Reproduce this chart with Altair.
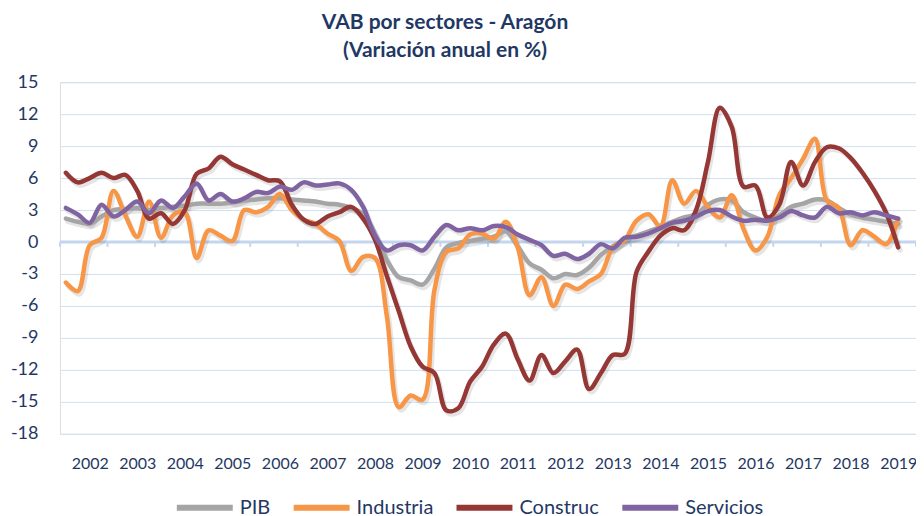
import altair as alt
import pandas as pd

# ---------------- data (quarterly, 2002T1 .. 2019T3) ----------------
years = list(range(2002, 2020))
quarters = [f"{y}T{q}" for y in years for q in range(1, 5)][:71]
series = ["PIB", "Industria", "Construc", "Servicios"]
colors = ["#a5a5a5", "#f79646", "#953735", "#8064a2"]

pib = [2.2, 1.9, 1.7, 2.4, 3.0, 3.1, 3.2, 3.0, 3.2, 3.3,
       3.4, 3.6, 3.6, 3.6, 3.7, 3.9, 4.0, 4.1, 4.1, 4.0,
       3.9, 3.8, 3.6, 3.5, 3.2, 2.6, 0.8, -1.7, -3.3, -3.6,
       -4.0, -2.5, -0.5, -0.1, 0.1, 0.3, 0.5, 1.0, -0.4, -2.0,
       -2.6, -3.4, -3.0, -3.1, -2.4, -1.2, -0.4, 0.2, 0.6, 1.0,
       1.4, 1.9, 2.3, 2.6, 3.5, 4.0, 3.9, 2.8, 2.3, 2.0,
       2.5, 3.3, 3.6, 4.0, 3.9, 3.2, 2.6, 2.3, 2.1, 1.9,
       1.7]
industria = [-3.8, -4.6, -0.3, 0.4, 4.8, 2.5, 0.5, 3.8, 0.4, 2.5,
             2.8, -1.5, 1.1, 0.6, 0.1, 3.0, 2.8, 3.3, 4.5, 3.0,
             2.1, 1.7, 0.8, 0.1, -2.7, -1.4, -1.5, -7.0, -15.5, -14.4,
             -14.8, -4.5, -0.9, -0.6, 0.7, 0.8, 0.3, 1.9, -0.5, -5.0,
             -3.3, -6.0, -4.0, -4.4, -3.7, -3.0, -0.5, 0.2, 2.0, 2.6,
             1.5, 5.8, 3.6, 4.8, 3.3, 2.3, 4.4, 1.2, -0.8, 0.5,
             4.4, 6.0, 7.8, 9.7, 3.9, 3.2, -0.3, 1.1, 0.5, -0.2,
             2.2]
construc = [6.5, 5.6, 6.0, 6.5, 6.0, 6.3, 4.8, 2.2, 2.7, 1.7,
            3.0, 6.4, 6.9, 8.0, 7.3, 6.8, 6.3, 5.8, 5.7, 3.5,
            2.1, 1.7, 2.4, 2.8, 3.3, 2.2, 0.2, -3.2, -6.5, -9.8,
            -11.7, -12.3, -15.8, -15.6, -13.1, -11.7, -9.6, -8.6, -11.0, -13.0,
            -10.6, -12.3, -11.2, -10.1, -13.8, -12.3, -10.6, -10.5, -2.8, -0.9,
            0.6, 1.3, 1.1, 3.0, 7.5, 12.6, 10.8, 5.2, 5.3, 2.3,
            3.5, 7.5, 5.3, 7.5, 8.9, 8.8, 7.9, 6.5, 4.8, 2.7,
            -0.5]
servicios = [3.2, 2.6, 1.8, 3.5, 2.4, 3.0, 3.8, 2.7, 3.9, 3.2,
             4.3, 5.5, 3.9, 4.5, 3.8, 4.1, 4.7, 4.6, 5.2, 4.9,
             5.6, 5.3, 5.4, 5.5, 4.9, 3.3, 0.6, -0.8, -0.3, -0.3,
             -0.8, 0.5, 1.6, 1.1, 1.3, 1.1, 1.5, 1.4, 0.7, 0.2,
             -0.3, -1.3, -1.1, -1.6, -1.1, -0.2, -0.6, 0.4, 0.5, 0.8,
             1.3, 1.8, 2.0, 2.4, 2.9, 3.0, 2.4, 2.0, 2.1, 2.0,
             2.3, 2.9, 2.5, 2.3, 3.3, 2.7, 2.8, 2.5, 2.8, 2.5,
             2.2]
y_ticks = [-18, -15, -12, -9, -6, -3, 0, 3, 6, 9, 12, 15]

rows = []
for name, vals in zip(series, [pib, industria, construc, servicios]):
    for i, v in enumerate(vals):
        rows.append({"idx": i, "trimestre": quarters[i], "serie": name, "valor": v})
df = pd.DataFrame(rows)

# year boundaries (category tick marks) and label positions (3rd quarter of each year)
n_q = len(years) * 4
bounds = pd.DataFrame({"b": [k - 0.5 for k in range(0, n_q + 1, 4)], "y0": 0.0, "y1": -0.45})
label_pos = [4 * j + 2 for j in range(len(years))]

FONT = "Lato"
TXT = "#1f3864"
GRID = "#d0e0f2"

xscale = alt.Scale(domain=[-0.5, n_q - 0.5], nice=False, zero=False)
yscale = alt.Scale(domain=[-18, 15], nice=False, zero=False)

x_axis = alt.Axis(values=label_pos, labelExpr="'' + (2002 + floor(datum.value / 4))",
                  domain=False, ticks=False, grid=False, labelPadding=22,
                  labelFontSize=16, labelFont=FONT, labelColor=TXT, title=None,
                  labelOverlap=False)
y_axis = alt.Axis(values=y_ticks, labelExpr="'' + datum.value",
                  domain=False, ticks=False, grid=True, gridColor=GRID,
                  gridWidth=1, labelPadding=22, labelFontSize=18, labelFont=FONT,
                  labelColor=TXT, title=None, labelOverlap=False)

base_grid = alt.Chart(pd.DataFrame({"y": [0]})).mark_rule(color="#c3d6ee", strokeWidth=3).encode(
    x=alt.value(0), x2=alt.value(857),
    y=alt.Y("y:Q", scale=yscale, axis=y_axis),
)

ticks = alt.Chart(bounds).mark_rule(color="#c3d6ee", strokeWidth=2).encode(
    x=alt.X("b:Q", scale=xscale, axis=x_axis),
    y=alt.Y("y0:Q", scale=yscale, axis=y_axis),
    y2="y1:Q",
)

shadow = alt.Chart(df).mark_line(
    strokeWidth=5, interpolate="catmull-rom", color="#000000", opacity=0.10,
    strokeCap="round", strokeJoin="round", xOffset=2, yOffset=3,
).encode(
    x=alt.X("idx:Q", scale=xscale, axis=x_axis),
    y=alt.Y("valor:Q", scale=yscale, axis=y_axis),
    detail="serie:N",
)

lines = alt.Chart(df).mark_line(
    strokeWidth=4.5, interpolate="catmull-rom", strokeCap="round", strokeJoin="round",
).encode(
    x=alt.X("idx:Q", scale=xscale, axis=x_axis),
    y=alt.Y("valor:Q", scale=yscale, axis=y_axis),
    color=alt.Color("serie:N", scale=alt.Scale(domain=series, range=colors),
                    sort=series,
                    legend=alt.Legend(orient="none", legendX=128, legendY=409,
                                      direction="horizontal", title=None,
                                      symbolType="M-2,0L2,0", symbolSize=784,
                                      symbolStrokeWidth=6, labelFontSize=20,
                                      labelFont=FONT, labelColor=TXT, padding=0,
                                      columnPadding=11, labelOffset=18)),
    tooltip=["trimestre:N", "serie:N", "valor:Q"],
)

chart = alt.layer(base_grid, ticks, shadow, lines).properties(
    width=857, height=352,
    autosize=alt.AutoSizeParams(type="none"),
    padding={"left": 52, "top": 74, "right": 0, "bottom": 84},
    title=alt.TitleParams(
        text=["VAB por sectores - Aragón", "(Variación anual en %)"],
        fontSize=21, font=FONT, fontWeight="bold", color=TXT,
        anchor="middle", dx=-43, offset=12, lineHeight=28,
    ),
).configure_view(stroke=None).configure(background="white")

chart.save("out.html", embed_options={"renderer": "svg", "actions": False})
